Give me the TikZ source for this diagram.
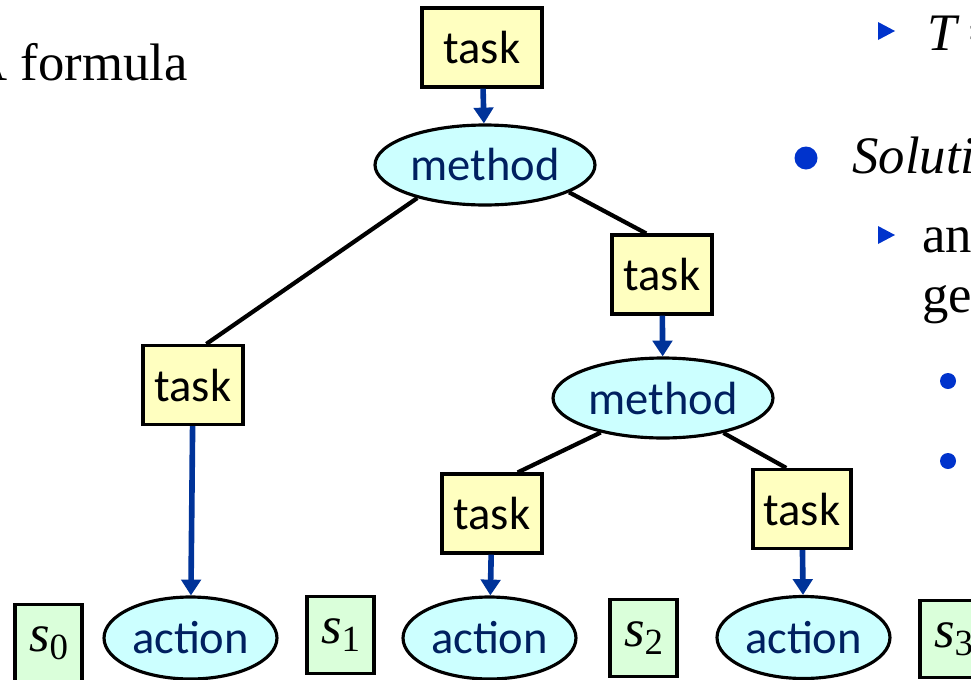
\documentclass[tikz,border=0pt]{standalone}
\usepackage{fontspec}
\setmainfont{Liberation Serif}
\setsansfont{Carlito}
\usetikzlibrary{arrows.meta, shapes.geometric}

\definecolor{taskfill}{RGB}{255,255,192}
\definecolor{methfill}{RGB}{204,255,255}
\definecolor{statefill}{RGB}{218,255,218}
\definecolor{navytext}{RGB}{0,32,96}
\definecolor{arrowblue}{RGB}{0,51,153}
\definecolor{bulletblue}{RGB}{0,51,204}

% state label: italic s with an upright subscript
\newcommand{\stlabel}[1]{{\itshape s}\raisebox{-0.35ex}{\fontsize{21}{21}\selectfont #1}}

\begin{document}
\begin{tikzpicture}[x=0.02cm, y=-0.02cm,
  every node/.style={font=\fontsize{30}{35}\selectfont, inner sep=0pt},
  taskbox/.style={draw, line width=1.8pt, fill=taskfill, minimum width=2cm,
    minimum height=1.58cm, font=\sffamily\fontsize{26.5}{30}\selectfont},
  methnode/.style={draw, ellipse, line width=1.8pt, fill=methfill, text=navytext,
    minimum width=4.4cm, minimum height=1.6cm, font=\sffamily\fontsize{26.5}{30}\selectfont},
  actnode/.style={methnode, minimum width=3.46cm, minimum height=1.64cm},
  statebox/.style={draw, line width=1.8pt, fill=statefill, minimum width=1.34cm,
    minimum height=1.54cm},
  subtask/.style={line width=2.4pt},
  refine/.style={line width=3.2pt, arrowblue, -{Triangle[length=9pt, width=11pt]}}]
  \useasboundingbox (0,0) rectangle (971,680);
  \clip (0,0) rectangle (971,680);

  % slide text around the tree
  \node[anchor=base west] (formula) at (-31,80) {A formula};
  \fill[bulletblue] (878,22) -- (895,31) -- (878,40) -- cycle;
  \node[anchor=base west] (tdef) at (927,50) {\textit{T}\,=};
  \fill[bulletblue] (806,158) circle (11.5);
  \node[anchor=base west] (soln) at (852,173) {\textit{Solution}};
  \fill[bulletblue] (878,226) -- (895,235) -- (878,244) -- cycle;
  \node[anchor=base west] (line1) at (922,252) {an};
  \node[anchor=base west] (line2) at (922,312) {ge};
  \fill[bulletblue] (948,381) circle (8);
  \fill[bulletblue] (948,461) circle (8);

  % decomposition tree
  \node[taskbox, minimum width=2.4cm] (t1) at (482,47.5) {task};
  \node[methnode] (m1) at (485,165) {method};
  \node[taskbox] (t2) at (193,385) {task};
  \node[taskbox] (t3) at (662,274.5) {task};
  \node[methnode] (m2) at (663,398) {method};
  \node[taskbox] (t4) at (492,513.5) {task};
  \node[taskbox, minimum width=1.96cm] (t5) at (802,509) {task};
  \node[actnode] (a1) at (190.5,638) {action};
  \node[actnode] (a2) at (489.5,638) {action};
  \node[actnode] (a3) at (803.5,637.5) {action};

  % states between the actions
  \node[statebox] (s0) at (48.5,643) {\stlabel{0}};
  \node[statebox] (s1) at (340.5,635) {\stlabel{1}};
  \node[statebox] (s2) at (643.5,638) {\stlabel{2}};
  \node[statebox] (s3) at (953.5,639) {\stlabel{3}};

  \draw[refine] (t1) -- (m1);
  \draw[subtask] (m1.206) -- (t2.72);
  \draw[subtask] (m1.342) -- (t3.111);
  \draw[refine] (t3) -- (m2);
  \draw[subtask] (m2.209) -- (t4.58);
  \draw[subtask] (m2.330) -- (t5.111);
  \draw[refine] (t2) -- (a1);
  \draw[refine] (t4) -- (a2);
  \draw[refine] (t5) -- (a3);
\end{tikzpicture}
\end{document}
